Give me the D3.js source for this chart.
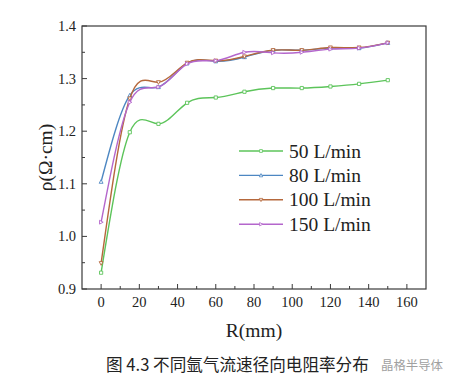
<!DOCTYPE html>
<html>
<head>
<meta charset="utf-8">
<script src="https://cdn.jsdelivr.net/npm/d3@7"></script>
<style>
  body { margin: 0; background: #fff; }
  svg { display: block; }
</style>
</head>
<body>
<div id="chart"></div>
<script>
// radial positions (mm)
const radius = [0, 15, 30, 45, 60, 75, 90, 105, 120, 135, 150];
// resistivity per argon flow rate
const rho50 = [0.931, 1.198, 1.214, 1.254, 1.264, 1.275, 1.282, 1.282, 1.285, 1.290, 1.297];
const rho80 = [1.104, 1.268, 1.284, 1.329, 1.333, 1.341, 1.354, 1.354, 1.358, 1.358, 1.368];
const rho100 = [0.949, 1.262, 1.293, 1.330, 1.334, 1.342, 1.354, 1.354, 1.359, 1.359, 1.368];
const rho150 = [1.027, 1.255, 1.284, 1.328, 1.334, 1.350, 1.349, 1.350, 1.356, 1.358, 1.368];
const seriesNames = ["50 L/min", "80 L/min", "100 L/min", "150 L/min"];
const xTicks = [0, 20, 40, 60, 80, 100, 120, 140, 160];
const yTicks = [0.9, 1.0, 1.1, 1.2, 1.3, 1.4];

const colors = ["#5cc45a", "#4d87c2", "#b5683c", "#b466cc"];
const markers = ["square", "triUp", "triDown", "triRight"];

const width = 459, height = 383;
const m = { left: 82, top: 26, right: 33, bottom: 94 };
const w = width - m.left - m.right, h = height - m.top - m.bottom;

const svg = d3.select("#chart").append("svg")
    .attr("width", width)
    .attr("height", height)
    .attr("font-family", "'Liberation Serif', 'Times New Roman', serif");

const x = d3.scaleLinear().domain([-10, 170]).range([m.left, m.left + w]);
const y = d3.scaleLinear().domain([0.9, 1.4]).range([m.top + h, m.top]);

const axisColor = "#3a3a3a";

// frame
svg.append("rect")
    .attr("x", m.left).attr("y", m.top)
    .attr("width", w).attr("height", h)
    .attr("fill", "none")
    .attr("stroke", axisColor)
    .attr("stroke-width", 1.2);

// x axis ticks (inward)
const xMinor = d3.range(10, 170, 20);
const gx = svg.append("g");
gx.selectAll(".xmaj").data(xTicks).join("line")
    .attr("x1", d => x(d)).attr("x2", d => x(d))
    .attr("y1", m.top + h).attr("y2", m.top + h - 5)
    .attr("stroke", axisColor).attr("stroke-width", 1);
gx.selectAll(".xmin").data(xMinor).join("line")
    .attr("x1", d => x(d)).attr("x2", d => x(d))
    .attr("y1", m.top + h).attr("y2", m.top + h - 3)
    .attr("stroke", axisColor).attr("stroke-width", 1);
gx.selectAll("text").data(xTicks).join("text")
    .attr("x", d => x(d))
    .attr("y", m.top + h + 18)
    .attr("text-anchor", "middle")
    .attr("font-size", 14.5)
    .attr("fill", "#222")
    .text(d => d);

// y axis ticks (inward)
const yMinor = [0.95, 1.05, 1.15, 1.25, 1.35];
const gy = svg.append("g");
gy.selectAll(".ymaj").data(yTicks).join("line")
    .attr("x1", m.left).attr("x2", m.left + 5)
    .attr("y1", d => y(d)).attr("y2", d => y(d))
    .attr("stroke", axisColor).attr("stroke-width", 1);
gy.selectAll(".ymin").data(yMinor).join("line")
    .attr("x1", m.left).attr("x2", m.left + 3)
    .attr("y1", d => y(d)).attr("y2", d => y(d))
    .attr("stroke", axisColor).attr("stroke-width", 1);
gy.selectAll("text").data(yTicks).join("text")
    .attr("x", m.left - 6)
    .attr("y", d => y(d) + 5)
    .attr("text-anchor", "end")
    .attr("font-size", 14.5)
    .attr("fill", "#222")
    .text(d => d.toFixed(1));

// axis titles
svg.append("text")
    .attr("x", x(80))
    .attr("y", 337)
    .attr("text-anchor", "middle")
    .attr("font-size", 19.5)
    .attr("fill", "#222")
    .text("R(mm)");

svg.append("text")
    .attr("transform", `translate(52,${m.top + h / 2}) rotate(-90)`)
    .attr("text-anchor", "middle")
    .attr("font-size", 19.5)
    .attr("fill", "#222")
    .text("ρ(Ω·cm)");

// marker shapes
function markerPath(type, s) {
    if (type === "square") return `M${-s},${-s}h${2 * s}v${2 * s}h${-2 * s}Z`;
    if (type === "triUp") return `M0,${-s * 1.3}L${s * 1.2},${s}L${-s * 1.2},${s}Z`;
    if (type === "triDown") return `M0,${s * 1.3}L${s * 1.2},${-s}L${-s * 1.2},${-s}Z`;
    return `M${s * 1.3},0L${-s},${s * 1.2}L${-s},${-s * 1.2}Z`;
}

const series = [rho50, rho80, rho100, rho150].map((vals, i) => ({
    name: seriesNames[i],
    color: colors[i],
    marker: markers[i],
    points: radius.map((r, j) => ({ r, v: vals[j] }))
}));

const line = d3.line()
    .x(d => x(d.r))
    .y(d => y(d.v))
    .curve(d3.curveNatural);

const gs = svg.append("g").selectAll("g").data(series).join("g");
gs.append("path")
    .attr("d", d => line(d.points))
    .attr("fill", "none")
    .attr("stroke", d => d.color)
    .attr("stroke-width", 1.4);
gs.each(function (s) {
    d3.select(this).selectAll(".pt").data(s.points).join("path")
        .attr("class", "pt")
        .attr("transform", d => `translate(${x(d.r)},${y(d.v)})`)
        .attr("d", markerPath(s.marker, 1.6))
        .attr("fill", "#fff")
        .attr("stroke", s.color)
        .attr("stroke-width", 0.9);
});

// legend
const leg = svg.append("g");
const legItems = leg.selectAll("g").data(series).join("g")
    .attr("transform", (d, i) => `translate(239,${151 + i * 24.4})`);
legItems.append("line")
    .attr("x1", 0).attr("x2", 44)
    .attr("stroke", d => d.color)
    .attr("stroke-width", 1.4);
legItems.append("path")
    .attr("transform", "translate(22,0)")
    .attr("d", d => markerPath(d.marker, 1.4))
    .attr("fill", "#fff")
    .attr("stroke", d => d.color)
    .attr("stroke-width", 0.8);
legItems.append("text")
    .attr("x", 50)
    .attr("y", 6.5)
    .attr("font-size", 19.5)
    .attr("fill", "#222")
    .text(d => d.name);

// caption
svg.append("text")
    .attr("x", 106)
    .attr("y", 371)
    .attr("font-family", "'Noto Sans CJK SC', sans-serif")
    .attr("font-size", 16.6)
    .attr("fill", "#222")
    .text("图 4.3 不同氩气流速径向电阻率分布");

// watermark
svg.append("text")
    .attr("x", 381)
    .attr("y", 370)
    .attr("font-family", "'Noto Sans CJK SC', sans-serif")
    .attr("font-size", 12.4)
    .attr("fill", "#a0a0a0")
    .text("晶格半导体");
</script>
</body>
</html>
